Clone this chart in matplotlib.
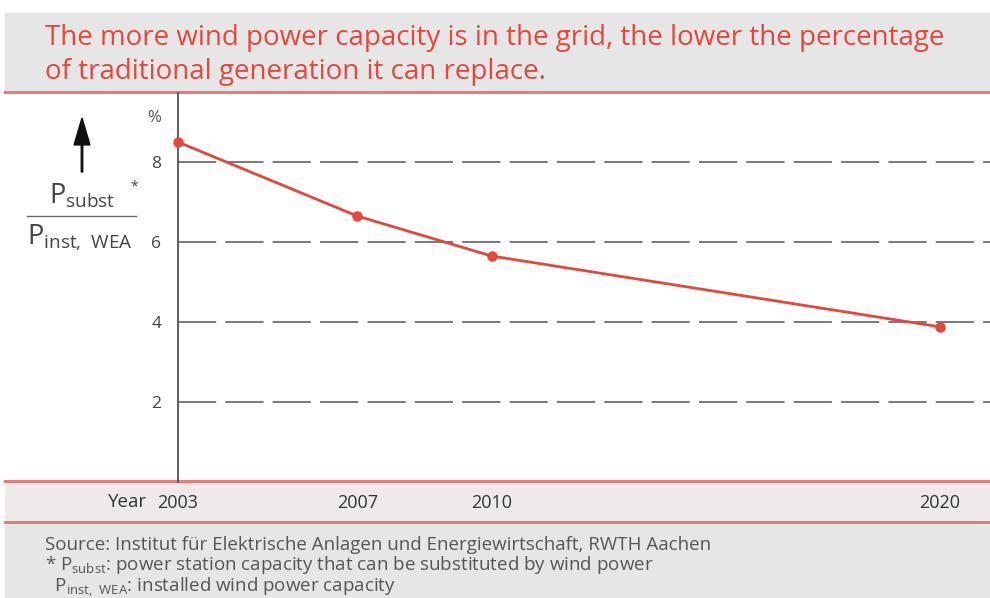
import matplotlib.pyplot as plt
from matplotlib.patches import Rectangle, FancyArrow
from matplotlib.lines import Line2D

plt.rcParams['font.family'] = ['Open Sans', 'DejaVu Sans']
plt.rcParams['mathtext.fontset'] = 'custom'
plt.rcParams['mathtext.rm'] = 'Open Sans'

years = [2003, 2007, 2010, 2020]
share = [8.5, 6.65, 5.65, 3.88]
yticks = [2, 4, 6, 8]
title = ("The more wind power capacity is in the grid, the lower the percentage\n"
         "of traditional generation it can replace.")
source = "Source: Institut für Elektrische Anlagen und Energiewirtschaft, RWTH Aachen"
note1 = r"* P$_{\mathrm{subst}}$: power station capacity that can be substituted by wind power"
note2 = r"  P$_{\mathrm{inst,\ WEA}}$: installed wind power capacity"

RED = '#e5473c'
GREY_BG = '#e6e6e6'
W, H = 990, 598

fig = plt.figure(figsize=(W / 100, H / 100), dpi=100)

def fy(py):
    return 1 - py / H

def fx(px):
    return px / W

# background bands (drawn under the axes)
fig.patches.append(Rectangle((fx(5), fy(91)), 1, fy(13) - fy(91), transform=fig.transFigure,
                             color=GREY_BG, zorder=-2))
fig.patches.append(Rectangle((fx(5), fy(520)), 1, fy(483) - fy(520), transform=fig.transFigure,
                             color='#eeeaea', zorder=-2))
fig.patches.append(Rectangle((fx(5), 0), 1, fy(525), transform=fig.transFigure,
                             color=GREY_BG, zorder=-2))
for py in [92, 481, 522]:
    fig.lines.append(Line2D([fx(5), 1], [fy(py), fy(py)], transform=fig.transFigure,
                            color='#e87a78', lw=2.2, zorder=-1))

fig.text(fx(45), fy(38), title.split('\n')[0], color=RED, fontsize=20, va='center', ha='left')
fig.text(fx(45), fy(72), title.split('\n')[1], color=RED, fontsize=20, va='center', ha='left')

# axes
x0 = 178
px_per_year = 44.8
ax = fig.add_axes([fx(x0), fy(482), 1 - fx(x0), fy(93) - fy(482)])
ax.set_xlim(2003, 2003 + (W - x0) / px_per_year)
ax.set_ylim(0, (482 - 93) / 40)
ax.patch.set_alpha(0)
for s in ['top', 'right', 'bottom']:
    ax.spines[s].set_visible(False)
ax.spines['left'].set_color('#555555')
ax.spines['left'].set_linewidth(1.3)
ax.set_xticks([])
ax.set_yticks(yticks)
ax.tick_params(axis='y', length=0, pad=12, labelsize=12.5, labelcolor='#444444')
for y in yticks:
    ax.axhline(y, color='#555555', lw=1.1, dashes=(25, 6))

ax.plot(years, share, color=RED, lw=2, marker='o', markersize=6.5, clip_on=False, zorder=3)

ax.text(-0.03, 0.935, '%', transform=ax.transAxes, fontsize=12, color='#555555',
        ha='center', va='center')

xt = ax.get_xaxis_transform()
for yr in years:
    ax.text(yr, -0.054, str(yr), transform=xt, ha='center', va='center', fontsize=13,
            color='#333333', clip_on=False)
fig.text(fx(128), fy(502), 'Year', ha='center', va='center', fontsize=13.5, color='#333333')

# left label
fig.text(fx(82), fy(196), r'P$_{\mathrm{subst}}$', ha='center', va='center', fontsize=19.5,
         color='#444444')
fig.text(fx(134), fy(187), '*', ha='center', va='center', fontsize=10, color='#444444')
fig.lines.append(Line2D([fx(27), fx(136)], [fy(216), fy(216)], transform=fig.transFigure,
                        color='#666666', lw=1))
fig.text(fx(80), fy(237), r'P$_{\mathrm{inst,\ WEA}}$', ha='center', va='center', fontsize=19.5,
         color='#444444')
fig.patches.append(FancyArrow(
    fx(82), fy(172), 0, fy(118) - fy(172), width=0.0015, head_width=0.016,
    head_length=0.045, color='#111111', transform=fig.transFigure, length_includes_head=True))

# footer
fig.text(fx(45), fy(545), source, fontsize=13.5, color='#555555', va='center', ha='left')
fig.text(fx(45), fy(565), note1, fontsize=13.5, color='#555555', va='center', ha='left')
fig.text(fx(45), fy(587), note2, fontsize=13.5, color='#555555', va='center', ha='left')

fig.savefig('out.png', dpi=100, facecolor='white')
